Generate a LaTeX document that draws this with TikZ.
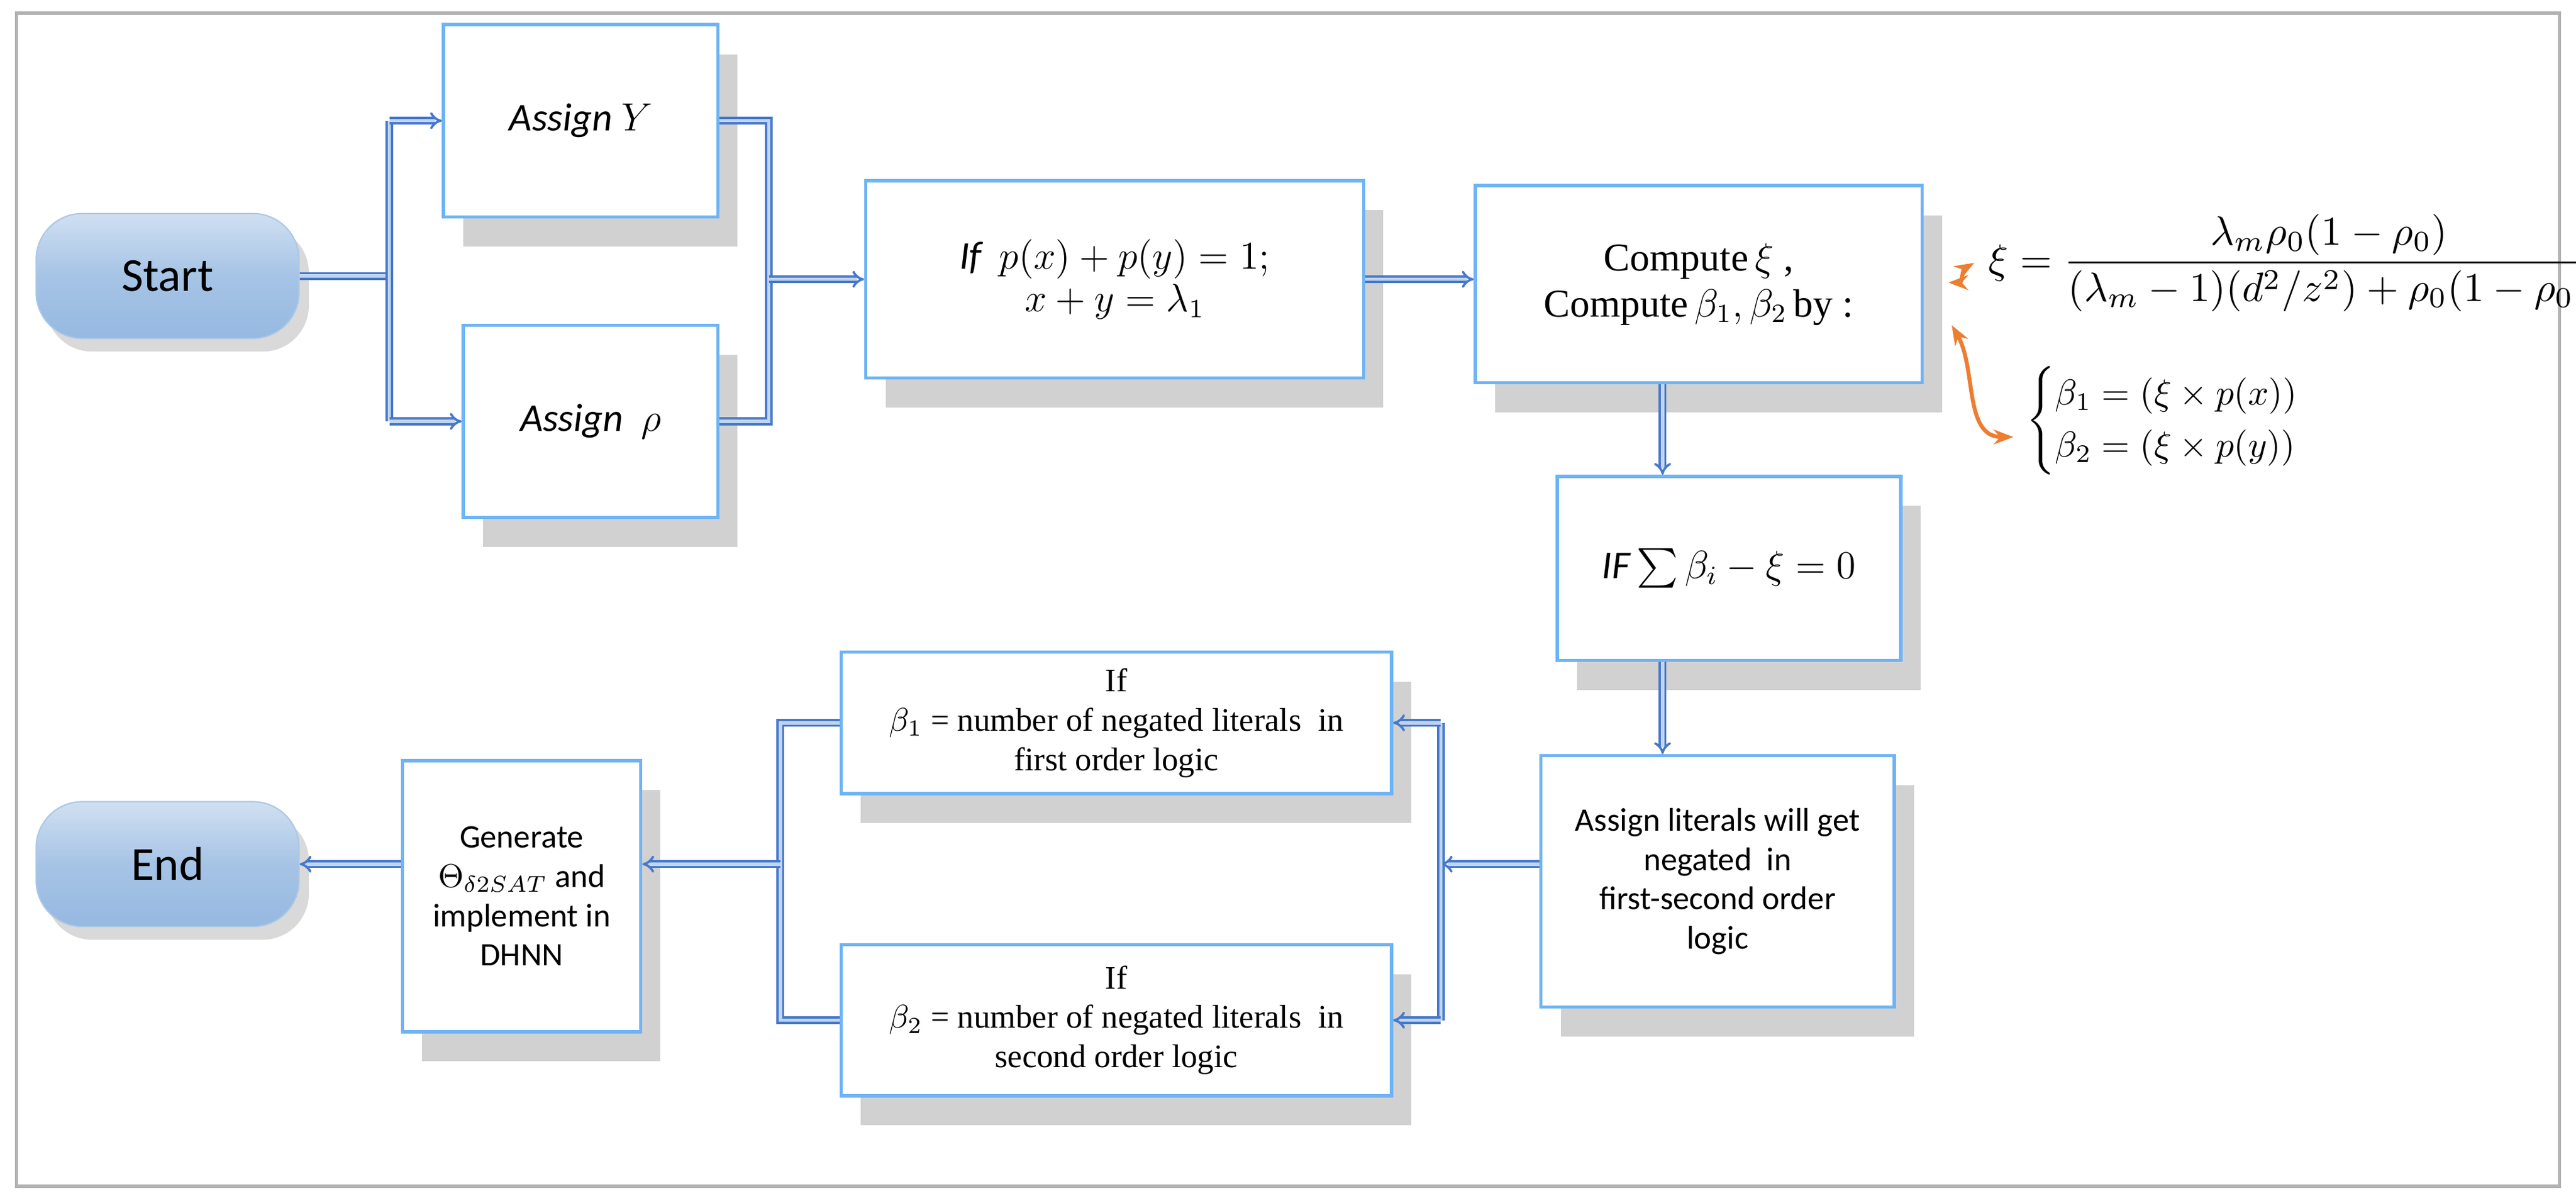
\documentclass[tikz,border=0pt]{standalone}
\usepackage{amsmath,amssymb}
\usepackage{fontspec}
\setmainfont{Carlito}
\newfontfamily\tms{Liberation Serif}
\usetikzlibrary{arrows.meta,shadows}

\definecolor{boxline}{RGB}{110,180,245}
\definecolor{arrblue}{RGB}{70,120,205}
\definecolor{capblue}{RGB}{150,185,225}
\definecolor{arrorange}{RGB}{237,125,49}

\tikzset{
  box/.style={draw=boxline, line width=1pt, fill=white, align=center, inner sep=2pt,
    drop shadow={shadow xshift=6pt, shadow yshift=-9pt, opacity=0.3, fill=black!60}},
  termin/.style={draw=capblue!80!white, rounded corners=14pt, top color=capblue!45!white,
    bottom color=capblue, middle color=capblue!85!white, font=\Large,
    minimum width=80pt, minimum height=38pt,
    drop shadow={shadow xshift=3pt, shadow yshift=-4pt, opacity=0.3}},
  conn/.style={draw=arrblue, double=capblue!60!white, double distance=1pt, line width=0.7pt},
  arr/.style={conn, -{Implies[length=3pt]}},
  oarr/.style={draw=arrorange, line width=1.2pt, {Stealth[length=6pt]}-{Stealth[length=6pt]}}
}

\begin{document}
\begin{tikzpicture}[x=0.5pt,y=-0.5pt]
\useasboundingbox (0,0) rectangle (1568,732);
\draw[gray!60, line width=1pt] (10,8) rectangle (1558,722);

% start / end
\node[termin] (start) at (102,168) {Start};
\node[termin] (end) at (102,526) {End};

% upper row
\node[box, minimum width=83.5pt, minimum height=58.5pt, font=\large] (assY) at (353.5,73.5) {$\mathit{Assign}\ Y$};
\node[box, minimum width=77.5pt, minimum height=58.5pt, font=\large] (assR) at (359.5,256.5) {$\mathit{Assign}\ \ \rho$};
\node[box, minimum width=151.5pt, minimum height=60pt, font=\large] (ifxy) at (678.5,170)
  {$\mathit{If}\ \ p(x)+p(y)=1;$\\[-1pt] $x+y=\lambda_1$};
\node[box, minimum width=136pt, minimum height=60pt, font=\tms\large] (comp) at (1034,173)
  {Compute\,$\xi$ ,\\ Compute\,$\beta_1,\beta_2$\,by :};
\node[box, minimum width=104.5pt, minimum height=56pt, font=\large] (ifsum) at (1052.5,346)
  {$\mathit{IF}\sum\beta_i-\xi=0$};

% lower row
\node[box, minimum width=107.5pt, minimum height=76.5pt] (lit) at (1045.5,536.5)
  {Assign literals will get\\ negated\ \ in\\ first-second order\\ logic};
\node[box, minimum width=167.5pt, minimum height=43pt, font=\tms] (if1) at (679.5,440)
  {If\\ $\beta_1$ = number of negated literals\ \ in\\ first order logic};
\node[box, minimum width=167.5pt, minimum height=46pt, font=\tms] (if2) at (679.5,621)
  {If\\ $\beta_2$ = number of negated literals\ \ in\\ second order logic};
\node[box, minimum width=72.5pt, minimum height=82.5pt] (gen) at (317.5,545.5)
  {Generate\\ $\Theta_{\delta 2SAT}$ and\\ implement in\\ DHNN};

% side formulas
\node[scale=1.25] (xi) at (1395,160) {$\displaystyle \xi=\frac{\lambda_m\rho_0(1-\rho_0)}{(\lambda_m-1)(d^2/z^2)+\rho_0(1-\rho_0)}$};
\node[scale=1.1] (bet) at (1328,256) {$\begin{cases}\beta_1=(\xi\times p(x))\\ \beta_2=(\xi\times p(y))\end{cases}$};

% branch points
\coordinate (s1) at (237,168);
\coordinate (s2) at (468,170);
\coordinate (v1) at (1012,0);
\coordinate (g1) at (475,526);
\coordinate (l1) at (877,526);
\coordinate (o1) at (1186,172);
\coordinate (o2) at (1188,198);

% upper connectors
\draw[conn] (start.east) -- (s1);
\draw[conn] (s1 |- assY.west) -- (s1 |- assR.west);
\draw[arr] (s1 |- assY.west) -- (assY.west);
\draw[arr] (s1 |- assR.west) -- (assR.west);
\draw[conn] (assY.east) -- (s2 |- assY.east) -- (s2 |- assR.east) -- (assR.east);
\draw[arr] (s2) -- (ifxy.west |- s2);
\draw[arr] (ifxy.east) -- (comp.west |- ifxy.east);
\draw[arr] (v1 |- comp.south) -- (v1 |- ifsum.north);
\draw[arr] (v1 |- ifsum.south) -- (v1 |- lit.north);

% lower connectors
\draw[arr] (lit.west |- l1) -- (l1);
\draw[conn] (l1 |- if1.east) -- (l1 |- if2.east);
\draw[arr] (l1 |- if1.east) -- (if1.east);
\draw[arr] (l1 |- if2.east) -- (if2.east);
\draw[conn] (if1.west) -- (g1 |- if1.west) -- (g1 |- if2.west) -- (if2.west);
\draw[arr] (g1) -- (gen.east |- g1);
\draw[arr] (gen.west |- end.east) -- (end.east);

% orange links
\draw[oarr] (o1) to[out=0,in=-150] (xi.west);
\draw[oarr] (o2) to[out=-60,in=180] ([yshift=-5pt]bet.west);
\end{tikzpicture}
\end{document}
